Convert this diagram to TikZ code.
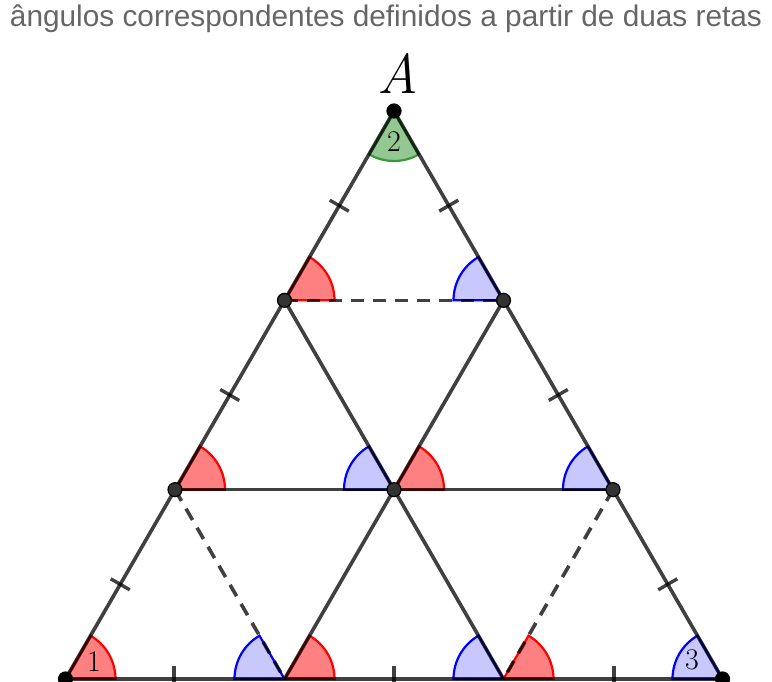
\documentclass[tikz,border=0pt]{standalone}
\usepackage{fontspec}
\newfontfamily\titlefont{Liberation Sans}
\usetikzlibrary{calc}
\definecolor{linegray}{HTML}{333333}
\definecolor{titlegray}{HTML}{666666}
\definecolor{redfill}{HTML}{FF8080}
\definecolor{bluefill}{HTML}{C8C8FF}
\definecolor{greenfill}{HTML}{93C893}
\definecolor{greenedge}{HTML}{3C963C}
\begin{document}
\begin{tikzpicture}[x=1pt,y=1pt,
  seg/.style={draw=black,draw opacity=0.75,line width=3.6pt},
  dashseg/.style={seg,dash pattern=on 13pt off 9pt},
  tick/.style={draw=black,draw opacity=0.75,line width=3.4pt},
  redang/.style={fill=redfill,draw=red,line width=2.2pt},
  blueang/.style={fill=bluefill,draw=blue,line width=2.2pt},
  greenang/.style={fill=greenfill,draw=greenedge,line width=2.2pt},
  dot/.style={circle,fill=linegray,draw=black,line width=1.2pt,inner sep=0pt,minimum size=14pt},
  num/.style={font=\fontsize{30}{30}\selectfont,inner sep=0pt}]
\useasboundingbox (0,0) rectangle (772,681);
% points
\coordinate (A) at (394,570);
\coordinate (BL) at (65.5,2);
\coordinate (BR) at (722.5,2);
\coordinate (L1) at ($(A)!1/3!(BL)$);
\coordinate (R1) at ($(A)!1/3!(BR)$);
\coordinate (L2) at ($(A)!2/3!(BL)$);
\coordinate (R2) at ($(A)!2/3!(BR)$);
\coordinate (M2) at ($(L2)!0.5!(R2)$);
\coordinate (B1) at ($(BL)!1/3!(BR)$);
\coordinate (B2) at ($(BL)!2/3!(BR)$);
% title
\node[font=\titlefont\fontsize{29.8}{29.8}\selectfont,text=titlegray,inner sep=0pt,anchor=base] (title) at (386,654) {ângulos correspondentes definidos a partir de duas retas};
% angles
\foreach \p in {BL,L1,L2,M2,B1,B2}{
  \filldraw[redang] (\p) -- ++(0:50pt) arc[start angle=0,end angle=60,radius=50pt] -- cycle;
}
\foreach \p in {R1,M2,R2,B1,B2,BR}{
  \filldraw[blueang] (\p) -- ++(180:50pt) arc[start angle=180,end angle=120,radius=50pt] -- cycle;
}
\filldraw[greenang] (A) -- ++(240:50pt) arc[start angle=240,end angle=300,radius=50pt] -- cycle;
% segments
\draw[seg] (A) -- (BL);
\draw[seg] (A) -- (BR);
\draw[seg] (BL) -- (BR);
\draw[seg] (L2) -- (R2);
\draw[seg] (L1) -- (B2);
\draw[seg] (R1) -- (B1);
\draw[dashseg] (L1) -- (R1);
\draw[dashseg] (L2) -- (B1);
\draw[dashseg] (R2) -- (B2);
% ticks on sides
\foreach \a/\b in {A/L1,L1/L2,L2/BL,A/R1,R1/R2,R2/BR}{
  \coordinate (m) at ($(\a)!0.5!(\b)$);
  \draw[tick] ($(m)!11pt!90:(\a)$) -- ($(m)!11pt!-90:(\a)$);
}
\foreach \x in {174,394,614}{
  \coordinate (t) at (\x,2);
  \draw[tick] ($(t)+(0,-11)$) -- ($(t)+(0,13)$);
}
% dots
\node[dot,fill=black] (dA) at (A) {};
\foreach \p in {L1,R1,L2,M2,R2}{ \node[dot] (d\p) at (\p) {}; }
\node[dot,fill=black] (dBL) at (BL) {};
\node[dot,fill=black] (dBR) at (BR) {};
% labels
\node[font=\fontsize{56}{56}\selectfont\itshape,inner sep=0pt] (lA) at (398,607) {A};
\node[num] (n1) at (94,19) {1};
\node[num] (n2) at (394,539) {2};
\node[num] (n3) at (692,21) {3};
\end{tikzpicture}
\end{document}
